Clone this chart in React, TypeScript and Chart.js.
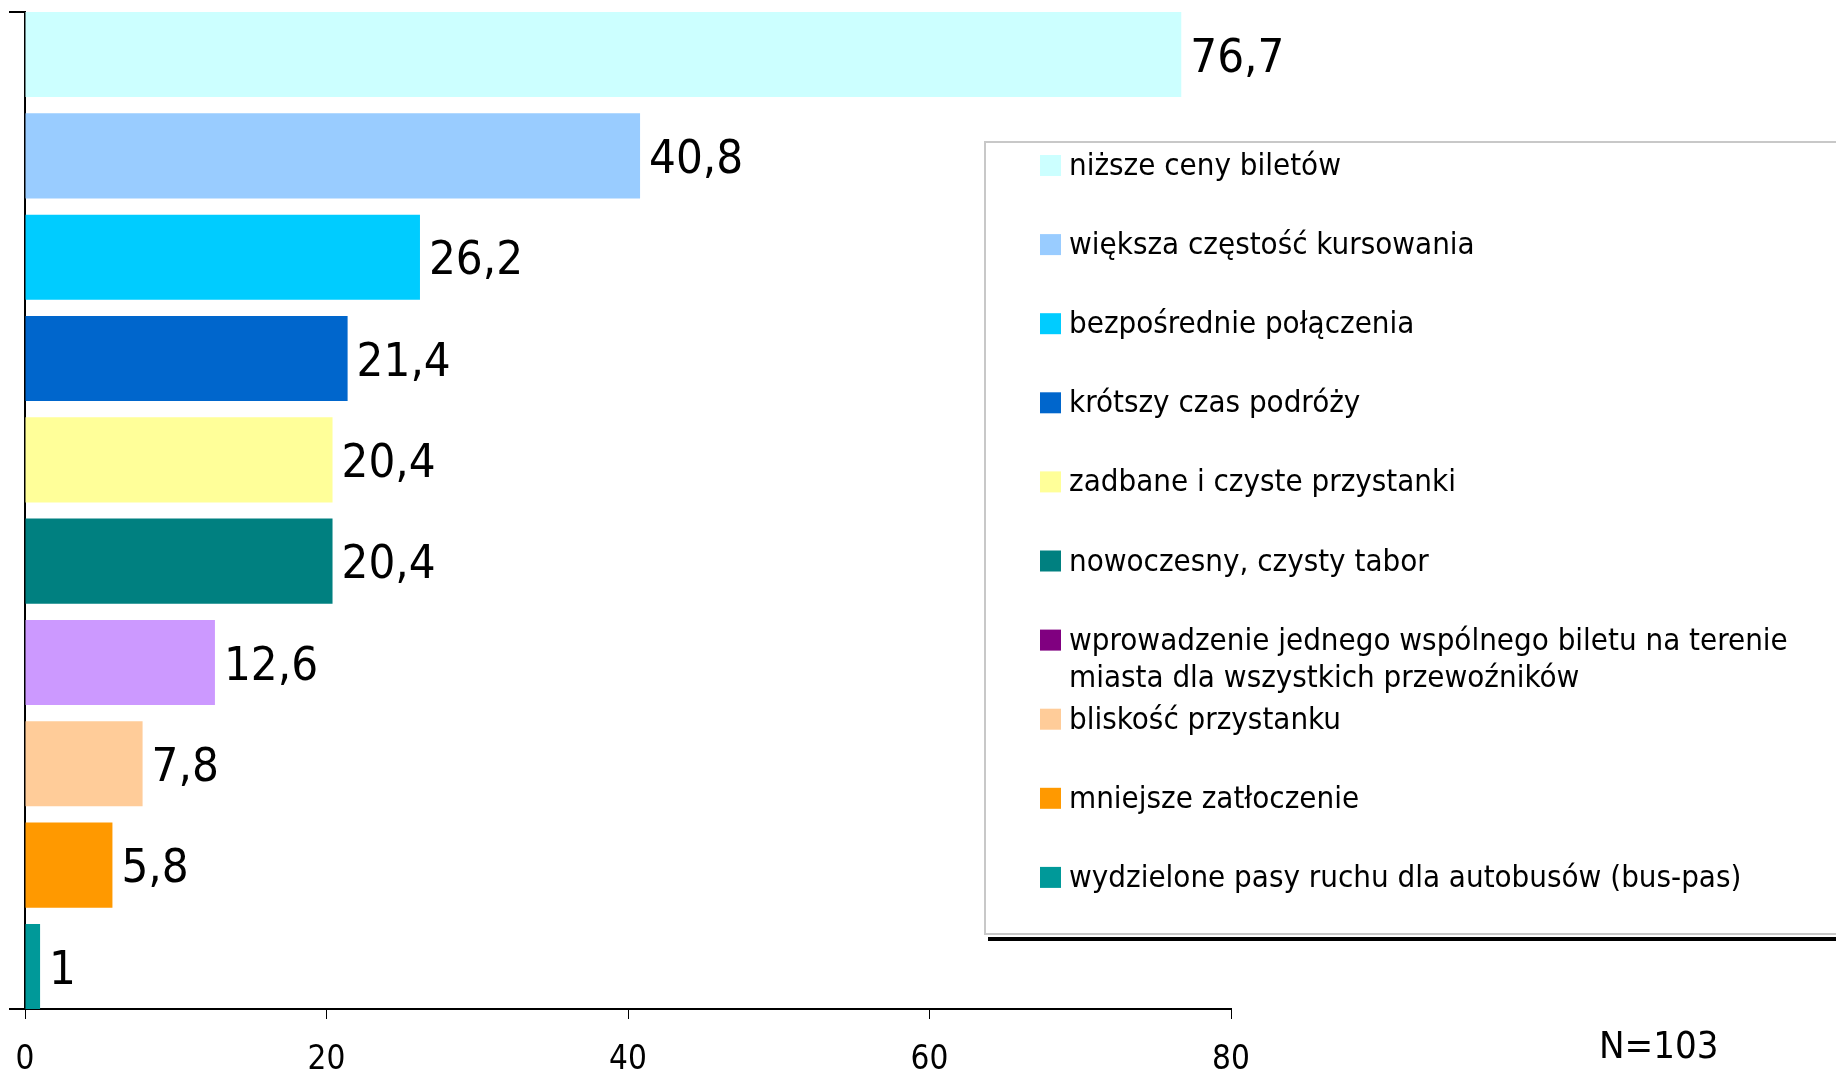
import React, { useEffect, useRef } from "react";
import { Chart, registerables } from "chart.js";

Chart.register(...registerables);

// ---- data ----
const categories = [
  "niższe ceny biletów",
  "większa częstość kursowania",
  "bezpośrednie połączenia",
  "krótszy czas podróży",
  "zadbane i czyste przystanki",
  "nowoczesny, czysty tabor",
  "wprowadzenie jednego wspólnego biletu na terenie miasta dla wszystkich przewoźników",
  "bliskość przystanku",
  "mniejsze zatłoczenie",
  "wydzielone pasy ruchu dla autobusów (bus-pas)",
];
const values = [76.7, 40.8, 26.2, 21.4, 20.4, 20.4, 12.6, 7.8, 5.8, 1];
const barColors = [
  "#CCFFFF",
  "#99CCFF",
  "#00CCFF",
  "#0066CC",
  "#FFFF99",
  "#008080",
  "#CC99FF",
  "#FFCC99",
  "#FF9900",
  "#009999",
];
const legendColors = [
  "#CCFFFF",
  "#99CCFF",
  "#00CCFF",
  "#0066CC",
  "#FFFF99",
  "#008080",
  "#800080",
  "#FFCC99",
  "#FF9900",
  "#009999",
];
const xTicks = [0, 20, 40, 60, 80];
const sampleNote = "N=103";

// ---- style ----
const FONT = '"DejaVu Sans Condensed", "DejaVu Sans", sans-serif';
const BAR_FRACTION = 0.84;
const LABEL_SIZE = 47;
const LEGEND_SIZE = 31;

function wrapText(ctx: CanvasRenderingContext2D, text: string, maxW: number): string[] {
  const words = text.split(" ");
  const lines: string[] = [];
  let cur = "";
  for (const w of words) {
    const test = cur ? cur + " " + w : w;
    if (ctx.measureText(test).width > maxW && cur) {
      lines.push(cur);
      cur = w;
    } else {
      cur = test;
    }
  }
  if (cur) lines.push(cur);
  return lines;
}

const overlayPlugin = {
  id: "overlay",
  afterDatasetsDraw(chart: any) {
    const ctx: CanvasRenderingContext2D = chart.ctx;
    const meta = chart.getDatasetMeta(0);
    ctx.save();
    // value labels
    ctx.fillStyle = "#000";
    ctx.font = `${LABEL_SIZE}px ${FONT}`;
    ctx.textAlign = "left";
    ctx.textBaseline = "alphabetic";
    meta.data.forEach((bar: any, i: number) => {
      const label = String(values[i]).replace(".", ",");
      ctx.fillText(label, bar.x + 9, bar.y + LABEL_SIZE * 0.365);
    });

    // legend box
    const bx = 985;
    const by = 142;
    const bw = 900;
    const bh = 792;
    ctx.fillStyle = "#000";
    ctx.fillRect(bx + 3, by + bh + 3, bw, 4);
    ctx.fillStyle = "#fff";
    ctx.fillRect(bx, by, bw, bh);
    ctx.strokeStyle = "#C8C8C8";
    ctx.lineWidth = 2;
    ctx.strokeRect(bx, by, bw, bh);

    // legend entries
    const firstCenter = 165.5;
    const step = 79.1;
    ctx.font = `${LEGEND_SIZE}px ${FONT}`;
    categories.forEach((name, i) => {
      const cy = firstCenter + i * step;
      ctx.fillStyle = legendColors[i];
      ctx.fillRect(1040, cy - 10.5, 21, 21);
      ctx.fillStyle = "#000";
      const lines = wrapText(ctx, name, 790);
      lines.forEach((ln, j) => {
        ctx.fillText(ln, 1069, cy + 9.5 + j * 37.5);
      });
    });

    // sample size note
    ctx.font = `38px ${FONT}`;
    ctx.fillStyle = "#000";
    ctx.fillText(sampleNote, 1599, 1058);
    ctx.restore();
  },
};

export default function App() {
  const canvasRef = useRef<HTMLCanvasElement | null>(null);

  useEffect(() => {
    const canvas = canvasRef.current;
    if (!canvas) return;
    const chart = new Chart(canvas, {
      type: "bar",
      data: {
        datasets: [
          {
            data: values.map((v, i) => ({ x: v, y: i })) as any,
            backgroundColor: barColors,
            borderWidth: 0,
            categoryPercentage: 1,
            barPercentage: BAR_FRACTION,
          },
        ],
      },
      options: {
        indexAxis: "y",
        responsive: false,
        animation: false,
        layout: { padding: { left: 9, right: 605, top: 12, bottom: 0 } },
        plugins: {
          legend: { display: false },
          tooltip: { enabled: false },
        },
        scales: {
          x: {
            type: "linear",
            position: "bottom",
            offset: false,
            min: xTicks[0],
            max: xTicks[xTicks.length - 1],
            afterBuildTicks: (s: any) => {
              s.ticks = xTicks.map((v) => ({ value: v }));
            },
            afterFit: (s: any) => {
              s.height = 65;
              s.paddingLeft = 0;
              s.paddingRight = 0;
            },
            grid: {
              drawOnChartArea: false,
              drawTicks: true,
              tickLength: 10,
              color: "#000",
              lineWidth: 1,
            },
            border: { display: true, color: "#000", width: 2 },
            ticks: {
              color: "#000",
              font: { family: FONT, size: 33 },
              padding: 22,
              maxRotation: 0,
              autoSkip: false,
            },
          },
          y: {
            type: "linear",
            reverse: true,
            offset: false,
            min: -BAR_FRACTION / 2,
            max: values.length - 1 + BAR_FRACTION / 2,
            afterBuildTicks: (s: any) => {
              s.ticks = [{ value: s.min }, { value: s.max }];
            },
            grid: {
              offset: false,
              drawOnChartArea: false,
              drawTicks: true,
              tickLength: 16,
              color: "#000",
              lineWidth: 2,
            },
            border: { display: true, color: "#000", width: 2 },
            ticks: { display: false },
          },
        },
      } as any,
      plugins: [overlayPlugin],
    });
    return () => chart.destroy();
  }, []);

  return (
    <div style={{ position: "absolute", left: 0, top: 0, width: 1836, height: 1074, background: "#fff" }}>
      <canvas ref={canvasRef} width={1836} height={1074} style={{ display: "block" }} />
    </div>
  );
}
